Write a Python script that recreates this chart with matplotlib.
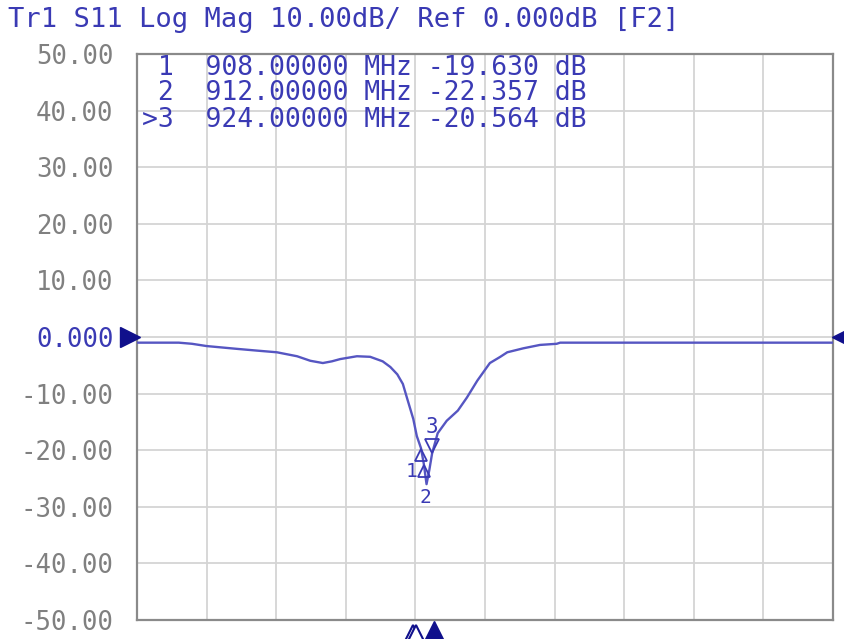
import matplotlib
matplotlib.use("Agg")
import matplotlib.pyplot as plt
from matplotlib.transforms import offset_copy
import numpy as np

# ---- data ----
freq_mhz = [500, 560, 579, 600, 644, 672, 701, 730, 749, 767, 780, 792, 816, 835,
            853, 864, 874, 882, 888, 897, 902, 908, 912, 916, 920, 924, 932, 945,
            961, 974, 989, 1007, 1022, 1032, 1055, 1079, 1103, 1108, 1500]
s11_db = [-1.0, -1.0, -1.2, -1.6, -2.1, -2.4, -2.7, -3.4, -4.2, -4.6, -4.3, -3.9, -3.4, -3.5,
          -4.3, -5.3, -6.6, -8.3, -10.8, -14.5, -17.5, -19.63, -22.357, -26.0, -23.5, -20.564, -17.0, -14.8,
          -13.0, -10.7, -7.7, -4.6, -3.5, -2.7, -2.0, -1.4, -1.2, -1.0, -1.0]
marker_ids = ["1", "2", "3"]
marker_freq = [908.0, 912.0, 924.0]
marker_val = [-19.630, -22.357, -20.564]
yticks = [50, 40, 30, 20, 10, 0, -10, -20, -30, -40, -50]
ytick_labels = ["50.00", "40.00", "30.00", "20.00", "10.00", "0.000",
                "-10.00", "-20.00", "-30.00", "-40.00", "-50.00"]
title_text = "Tr1 S11 Log Mag 10.00dB/ Ref 0.000dB [F2]"
f_start, f_stop = 500, 1500

# ---- style ----
W, H = 844, 639
DPI = 100
trace_c = "#5656c2"
text_c = "#3a3ab4"
navy = "#10108c"
gray_txt = "#808080"
mono = ["DejaVu Sans Mono"]

fig = plt.figure(figsize=(W / DPI, H / DPI), dpi=DPI)
L, R, T, B = 137, 833, 54, 620
ax = fig.add_axes([L / W, (H - B) / H, (R - L) / W, (B - T) / H])
ax.set_xlim(f_start, f_stop)
ax.set_ylim(-50, 50)
ax.set_xticks(np.arange(f_start, f_stop + 1, 100))
ax.set_yticks(yticks)
ax.set_yticklabels(ytick_labels, family=mono, fontsize=18.5, color=gray_txt)
ax.get_yticklabels()[5].set_color(text_c)
ax.tick_params(axis="y", length=0, pad=17)
ax.tick_params(axis="x", length=0, labelbottom=False)
ax.grid(True, color="#d4d4d4", linewidth=1.3)
ax.set_axisbelow(True)
for s in ax.spines.values():
    s.set_color("#8a8a8a")
    s.set_linewidth(1.6)

ax.plot(freq_mhz, s11_db, color=trace_c, linewidth=1.7, zorder=3)

# trace markers
label_offsets = {"1": (-9, -14), "2": (2, -24)}
for mid, mf, mv in zip(marker_ids, marker_freq, marker_val):
    if mid == "3":
        tr = offset_copy(ax.transData, fig=fig, x=0, y=7, units="dots")
        ax.plot([mf], [mv], marker="v", ms=10, mfc="none", mec=text_c, mew=1.3,
                transform=tr, zorder=4)
        ax.annotate(mid, (mf, mv), xytext=(0, 16), textcoords="offset pixels",
                    ha="center", va="bottom", color=text_c, family=mono, fontsize=15)
    else:
        tr = offset_copy(ax.transData, fig=fig, x=0, y=-7, units="dots")
        ax.plot([mf], [mv], marker="^", ms=9, mfc="none", mec=text_c, mew=1.3,
                transform=tr, zorder=4)
        ax.annotate(mid, (mf, mv), xytext=label_offsets[mid], textcoords="offset pixels",
                    ha="center", va="top", color=text_c, family=mono, fontsize=14)

# reference-level triangles
trl = offset_copy(ax.transData, fig=fig, x=-7, y=0, units="dots")
ax.plot([f_start], [0], marker=">", ms=14, color=navy, clip_on=False,
        transform=trl, zorder=5)
trr = offset_copy(ax.transData, fig=fig, x=9, y=0, units="dots")
ax.plot([f_stop], [0], marker="<", ms=15, color=navy, clip_on=False,
        transform=trr, zorder=5)

# stimulus markers below the axis
for mid, mf in zip(marker_ids, marker_freq):
    if mid == "3":
        trb = offset_copy(ax.transData, fig=fig, x=2, y=-12, units="dots")
        ax.plot([mf], [-50], marker="^", ms=16, color=navy, clip_on=False,
                transform=trb, zorder=5)
    else:
        trb2 = offset_copy(ax.transData, fig=fig, x=-8, y=-13, units="dots")
        ax.plot([mf], [-50], marker="^", ms=11, mfc="white", mec=navy, mew=1.5,
                clip_on=False, transform=trb2, zorder=5)

# marker table
rows = []
for mid, mf, mv in zip(marker_ids, marker_freq, marker_val):
    prefix = (">" + mid) if mid == "3" else (" " + mid)
    rows.append(f"{prefix}  {mf:.5f} MHz {mv:.3f} dB")
row_base = [75, 100, 127]
for txt, yb in zip(rows, row_base):
    fig.text(142 / W, 1 - yb / H, txt, family=mono, fontsize=19, color=text_c,
             ha="left", va="baseline")

# title
fig.text(8 / W, 1 - 27 / H, title_text, family=mono, fontsize=19.5, color=text_c,
         ha="left", va="baseline")

fig.savefig("out.png", dpi=DPI)
